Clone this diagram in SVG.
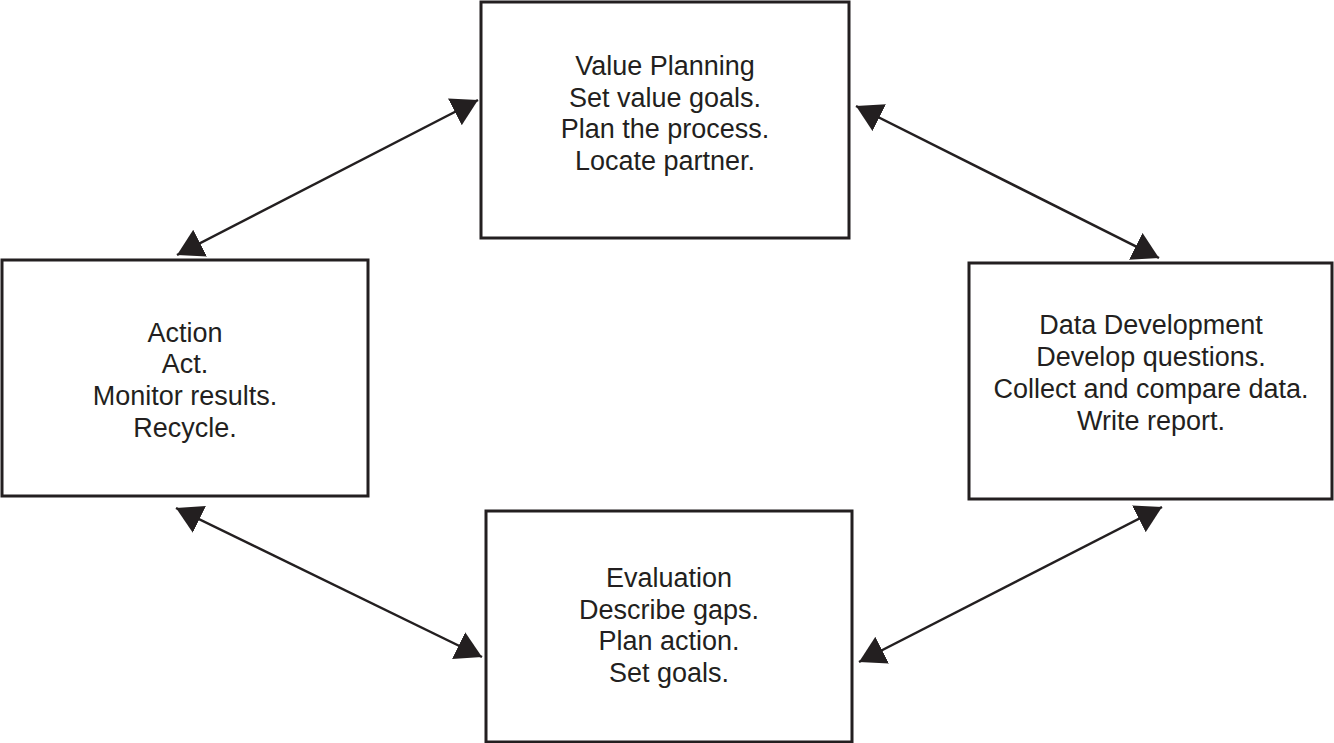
<svg xmlns="http://www.w3.org/2000/svg" width="1334" height="743" viewBox="0 0 1334 743">
<style>
.box{fill:#fff;stroke:#231f20;stroke-width:3}
.lbl{font-family:"Liberation Sans",Arial,sans-serif;font-size:27px;fill:#231f20;text-anchor:middle}
.con{stroke:#231f20;stroke-width:2.5;fill:none;marker-start:url(#ah);marker-end:url(#ah)}
</style>
<defs>
<marker id="ah" markerUnits="userSpaceOnUse" markerWidth="27" markerHeight="30" refX="26" refY="15" orient="auto-start-reverse" viewBox="0 0 27 30">
<path d="M0,0 L26,15 L0,30 z" fill="#231f20"/>
</marker>
</defs>
<rect width="1334" height="743" fill="#fff"/>
<g id="value-planning">
<rect class="box" x="481" y="2" width="368" height="236"/>
<text class="lbl" x="665" y="75">Value Planning</text>
<text class="lbl" x="665" y="107">Set value goals.</text>
<text class="lbl" x="665" y="138">Plan the process.</text>
<text class="lbl" x="665" y="170">Locate partner.</text>
</g>
<g id="action">
<rect class="box" x="2" y="260" width="366" height="236"/>
<text class="lbl" x="185" y="342">Action</text>
<text class="lbl" x="185" y="373">Act.</text>
<text class="lbl" x="185" y="405">Monitor results.</text>
<text class="lbl" x="185" y="437">Recycle.</text>
</g>
<g id="data-development">
<rect class="box" x="969" y="263" width="363" height="236"/>
<text class="lbl" x="1151" y="334">Data Development</text>
<text class="lbl" x="1151" y="366">Develop questions.</text>
<text class="lbl" x="1151" y="398">Collect and compare data.</text>
<text class="lbl" x="1151" y="430">Write report.</text>
</g>
<g id="evaluation">
<rect class="box" x="486" y="511" width="366" height="231"/>
<text class="lbl" x="669" y="587">Evaluation</text>
<text class="lbl" x="669" y="619">Describe gaps.</text>
<text class="lbl" x="669" y="650">Plan action.</text>
<text class="lbl" x="669" y="682">Set goals.</text>
</g>
<g id="connectors">
<line class="con" x1="177" y1="255" x2="478" y2="100"/>
<line class="con" x1="856" y1="106" x2="1159" y2="258"/>
<line class="con" x1="176" y1="508" x2="482" y2="657"/>
<line class="con" x1="859" y1="662" x2="1162" y2="507"/>
</g>
</svg>
